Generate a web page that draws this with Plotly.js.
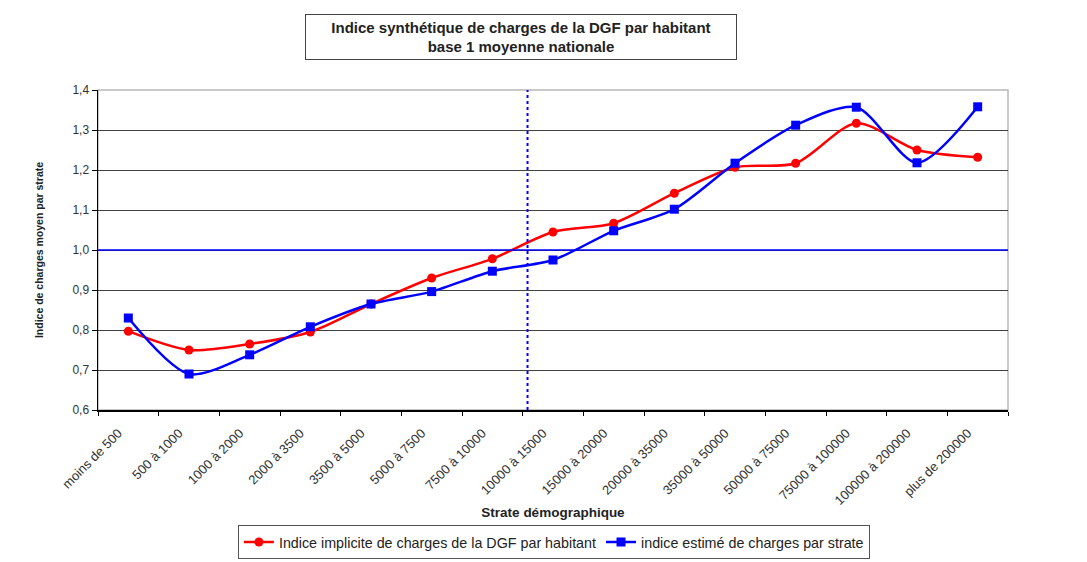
<!DOCTYPE html>
<html><head><meta charset="utf-8">
<script src="https://cdn.plot.ly/plotly-3.0.1.min.js"></script>
<style>html,body{margin:0;padding:0;background:#fff}#chart{width:1087px;height:562px}</style>
</head><body><div id="chart"></div>
<script>
const categories = ["moins de 500","500 à 1000","1000 à 2000","2000 à 3500","3500 à 5000","5000 à 7500","7500 à 10000","10000 à 15000","15000 à 20000","20000 à 35000","35000 à 50000","50000 à 75000","75000 à 100000","100000 à 200000","plus de 200000"];
const indiceImplicite = [0.797,0.750,0.765,0.795,0.865,0.930,0.978,1.045,1.067,1.142,1.207,1.217,1.317,1.250,1.232];
const indiceEstime = [0.830,0.690,0.738,0.808,0.865,0.896,0.947,0.975,1.048,1.102,1.217,1.312,1.357,1.218,1.358];
const yTicks = [0.6,0.7,0.8,0.9,1.0,1.1,1.2,1.3,1.4];
const referenceLevel = 1.0;
const separatorPos = 6.58;

const font = "Liberation Sans, Arial, sans-serif";
const traces = [
  {x: categories, y: indiceImplicite, name: "Indice implicite de charges de la DGF par habitant", type: "scatter", mode: "lines+markers",
   line: {color: "#ff0000", width: 2.5, shape: "spline", smoothing: 0.8}, marker: {symbol: "circle", size: 9, color: "#ff0000"}},
  {x: categories, y: indiceEstime, name: "indice estimé de charges par strate", type: "scatter", mode: "lines+markers",
   line: {color: "#0000ff", width: 2.5, shape: "spline", smoothing: 0.8}, marker: {symbol: "square", size: 9, color: "#0000ff"}}
];
const layout = {
  width: 1087, height: 562,
  margin: {l: 98, r: 79, t: 90, b: 152, autoexpand: false},
  paper_bgcolor: "#fff", plot_bgcolor: "#fff",
  separators: ", ",
  font: {family: font, size: 11, color: "#333"},
  showlegend: true,
  legend: {orientation: "h", x: 0.501, xanchor: "center", y: -0.36, yanchor: "top",
    bordercolor: "#555", borderwidth: 1, font: {size: 14.3, color: "#222"}, itemwidth: 30, tracegroupgap: 0},
  xaxis: {type: "category", range: [-0.5, 14.5], tickson: "boundaries", ticks: "outside", ticklen: 4, tickcolor: "#000",
    tickangle: -45, showgrid: false, showline: true, linecolor: "#000", linewidth: 1.5,
    tickfont: {size: 13, color: "#333"}, zeroline: false, automargin: false,
    ticklabelstandoff: 9, ticklabelshift: -10,
    title: {text: "<b>Strate démographique</b>", font: {size: 13.5, color: "#222"}, standoff: 0}},
  yaxis: {range: [0.6, 1.4], tickvals: yTicks, tickformat: ".1f", ticks: "outside", ticklen: 5, tickcolor: "#000",
    showgrid: true, gridcolor: "#404040", gridwidth: 1, showline: true, linecolor: "#000", linewidth: 1.5, zeroline: false,
    tickfont: {size: 12, color: "#333"}, automargin: false,
    title: {text: "<b>Indice de charges moyen par strate</b>", font: {size: 10.5, color: "#222"}, standoff: 26}},
  shapes: [
    {type: "rect", xref: "paper", yref: "paper", x0: 0, x1: 1, y0: 0, y1: 1, line: {color: "#b8b8b8", width: 1.5}, layer: "below"},
    {type: "line", xref: "paper", yref: "y", x0: 0, x1: 1, y0: referenceLevel, y1: referenceLevel, line: {color: "#0000ff", width: 1.5}, layer: "above"},
    {type: "line", xref: "x", yref: "paper", x0: separatorPos, x1: separatorPos, y0: 0, y1: 1, line: {color: "#0000ff", width: 2, dash: "dot"}}
  ],
  annotations: [
    {xref: "paper", yref: "paper", x: 0.465, y: 1.166, xanchor: "center", yanchor: "middle", showarrow: false,
     text: "<b>Indice synthétique de charges de la DGF par habitant<br>base 1 moyenne nationale</b>",
     font: {size: 15, color: "#222", family: font}, bordercolor: "#444", borderwidth: 1, borderpad: 2, width: 426, height: 40, align: "center"}
  ]
};
Plotly.newPlot("chart", traces, layout, {displayModeBar: false, staticPlot: true});
</script></body></html>
